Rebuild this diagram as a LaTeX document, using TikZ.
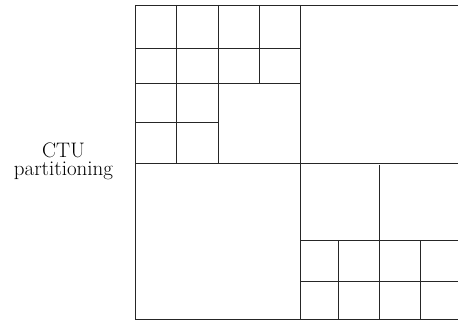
\documentclass[tikz,border=0pt]{standalone}
\begin{document}
\begin{tikzpicture}[x=1pt,y=-1pt,
  gridline/.style={draw=black!85,line width=0.9pt},
  label/.style={align=center,inner sep=0pt,font=\fontsize{21}{18}\selectfont}]
\useasboundingbox (0,0) rectangle (458,320);
\clip (0,0) rectangle (458,320);
% outer lines
\draw[gridline] (135.5,5) -- (470,5);
\draw[gridline] (135.5,5) -- (135.5,319.3) -- (470,319.3);
\draw[gridline] (300.3,5) -- (300.3,319.3);
\draw[gridline] (135.5,163) -- (470,163);
% top-left quadrant
\draw[gridline] (135.5,48.3) -- (300.3,48.3);
\draw[gridline] (135.5,83.3) -- (300.3,83.3);
\draw[gridline] (135.5,122.3) -- (218,122.3);
\draw[gridline] (176.7,5) -- (176.7,163);
\draw[gridline] (218,5) -- (218,163);
\draw[gridline] (259.3,5) -- (259.3,83.3);
% bottom-right quadrant
\draw[gridline] (379.3,165) -- (379.3,319.3);
\draw[gridline] (300.3,240.7) -- (470,240.7);
\draw[gridline] (300.3,281.7) -- (470,281.7);
\draw[gridline] (338.3,240.7) -- (338.3,319.3);
\draw[gridline] (420.3,240.7) -- (420.3,319.3);
% label
\node[label] (ctu) at (63.5,161.2) {CTU\\partitioning};
\end{tikzpicture}
\end{document}
